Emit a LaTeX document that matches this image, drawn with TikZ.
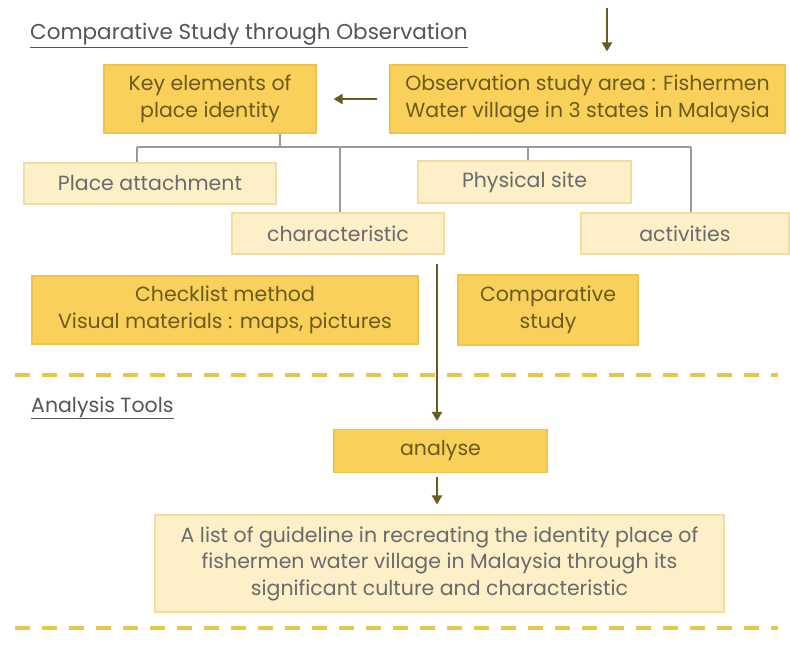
\documentclass[tikz,border=0pt]{standalone}
\usepackage{fontspec}
\setmainfont{Poppins}
\usetikzlibrary{arrows.meta}
\definecolor{gold}{HTML}{F9D05A}
\definecolor{goldline}{HTML}{EEC54A}
\definecolor{pale}{HTML}{FDF0C9}
\definecolor{paleline}{HTML}{F1DDA2}
\definecolor{olive}{HTML}{6B5B1E}
\definecolor{greytext}{HTML}{6A6A6A}
\definecolor{treeline}{HTML}{9A9A9A}
\definecolor{dashgold}{HTML}{E9C44A}
\tikzset{
  x=1pt,y=-1pt,
  strongbox/.style={draw=goldline,fill=gold,line width=1.2pt,text=olive,align=center,inner sep=0pt,font=\fontsize{20.5}{27.5}\selectfont},
  softbox/.style={draw=paleline,fill=pale,line width=1.2pt,text=greytext,align=center,inner sep=0pt,font=\fontsize{20.5}{26.5}\selectfont},
  flow/.style={draw=olive,line width=2.6pt,-{Triangle[width=10pt,length=9pt]}},
  tree/.style={draw=treeline,line width=1.8pt},
  sectionline/.style={draw=dashgold,line width=3.5pt,dash pattern=on 15pt off 12pt},
  heading/.style={text=greytext!80!black,anchor=base west,inner sep=0pt,font=\fontsize{21.5}{24}\selectfont}
}
\begin{document}
\begin{tikzpicture}
\useasboundingbox (0,0) rectangle (790,647);
\fill[white] (0,0) rectangle (790,647);

\node[heading] (title) at (30,40) {\underline{Comparative Study through Observation}};
\node[heading,font=\fontsize{20.5}{24}\selectfont] (tools) at (31,412) {\underline{Analysis Tools}};

\node[strongbox,minimum width=212,minimum height=68] (key) at (210,99) {Key elements of\\place identity};
\node[strongbox,minimum width=395,minimum height=68] (obs) at (587.5,99) {Observation study area : Fishermen\\Water village in 3 states in Malaysia};

\node[softbox,minimum width=252,minimum height=41] (place) at (150,183.5) {Place attachment};
\node[softbox,minimum width=213,minimum height=42] (phys) at (524.5,182) {Physical site};
\node[softbox,minimum width=212,minimum height=41] (char) at (338,233.5) {characteristic};
\node[softbox,minimum width=208,minimum height=41] (act) at (685,233.5) {activities};

\node[strongbox,minimum width=386,minimum height=68] (check) at (225,310) {Checklist method\\Visual materials : maps, pictures};
\node[strongbox,minimum width=180,minimum height=70] (comp) at (548,310) {Comparative\\study};

\node[strongbox,minimum width=213,minimum height=43] (anal) at (440.5,451) {analyse};
\node[softbox,minimum width=569,minimum height=97] (final) at (439.5,563.5) {A list of guideline in recreating the identity place of\\fishermen water village in Malaysia through its\\significant culture and characteristic};

% section separators
\coordinate (d1a) at (15,375); \coordinate (d1b) at (778,375);
\coordinate (d2a) at (15,628); \coordinate (d2b) at (778,628);
\draw[sectionline] (d1a) -- (d1b);
\draw[sectionline] (d2a) -- (d2b);

% tree
\coordinate (hub) at (280,147);
\draw[tree] (key.south -| hub) -- (hub);
\draw[tree] (137,147) -- (691,147);
\draw[tree] (137,147) -- (place.north -| 137,0);
\draw[tree] (340,147) -- (char.north -| 340,0);
\draw[tree] (528,147) -- (phys.north -| 528,0);
\draw[tree] (691,147) -- (act.north -| 691,0);

% arrows
\coordinate (topin) at (607,8);
\draw[flow,shorten >=13pt] (topin) -- (topin |- obs.north);
\draw[flow,shorten <=12pt,shorten >=17pt] (obs.west) -- (key.east);
\coordinate (vx) at (437,0);
\draw[flow,shorten <=9pt,shorten >=8pt] (char.south -| vx) -- (anal.north -| vx);
\draw[flow,shorten <=4pt,shorten >=10pt] (anal.south -| vx) -- (final.north -| vx);
\end{tikzpicture}
\end{document}
